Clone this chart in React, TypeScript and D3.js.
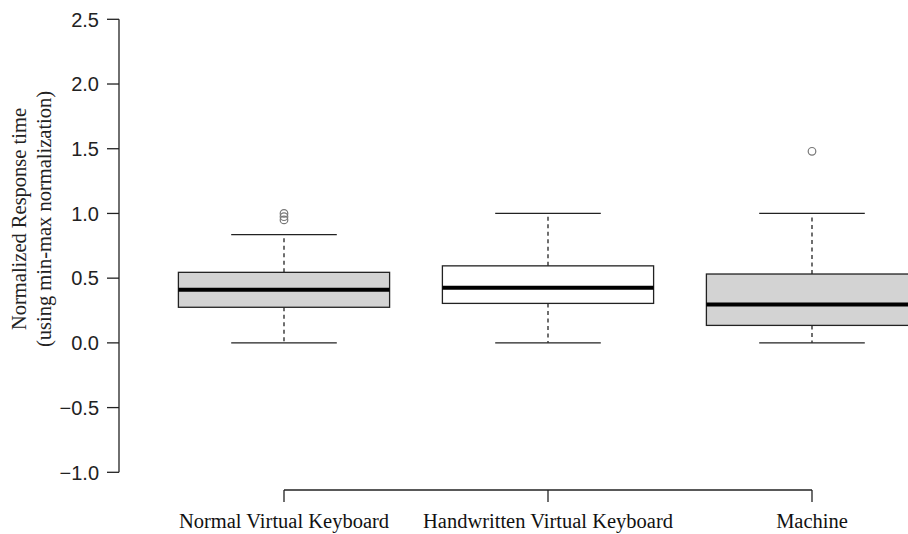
import React from 'react';
import * as d3 from 'd3';

const categories = ['Normal Virtual Keyboard', 'Handwritten Virtual Keyboard', 'Machine'];
const lowerWhisker = [0, 0, 0];
const q1 = [0.275, 0.305, 0.135];
const median = [0.41, 0.425, 0.297];
const q3 = [0.545, 0.595, 0.532];
const upperWhisker = [0.837, 1.0, 1.0];
const outliers = [[0.95, 0.975, 1.0], [], [1.48]];
const boxFill = ['#d3d3d3', '#ffffff', '#d3d3d3'];
const yTicks = [-1.0, -0.5, 0.0, 0.5, 1.0, 1.5, 2.0, 2.5];

const width = 908, height = 534;

export default function App() {
  const y = d3.scaleLinear().domain([-1, 2.5]).range([472.3, 19.3]);
  const x = d3.scaleBand().domain(categories).range([152, 944]).paddingInner(0).paddingOuter(0);
  const bw = x.bandwidth() * 0.8;
  const cx = (c) => x(c) + x.bandwidth() / 2;
  const axisX = 119;
  const axisY = 490;
  const serif = '"Liberation Serif", "Times New Roman", serif';
  const sans = '"Liberation Sans", Arial, sans-serif';

  return (
    <svg width={width} height={height} style={{ position: 'absolute', left: 0, top: 0, background: '#fff' }}>
      {/* y axis */}
      <line x1={axisX} x2={axisX} y1={y(-1)} y2={y(2.5)} stroke="#222" strokeWidth={1.3} />
      {yTicks.map(t => (
        <g key={t}>
          <line x1={axisX - 12} x2={axisX} y1={y(t)} y2={y(t)} stroke="#222" strokeWidth={1.3} />
          <text x={99} y={y(t)} dy="0.36em" textAnchor="end" fontFamily={sans} fontSize={20} fill="#222">
            {d3.format('.1f')(t).replace('-', '\u2212')}
          </text>
        </g>
      ))}
      {/* y title */}
      <g transform="translate(0,219) rotate(-90)">
        <text x={0} y={26} textAnchor="middle" fontFamily={serif} fontSize={20.5} fill="#222">Normalized Response time</text>
        <text x={0} y={51} textAnchor="middle" fontFamily={serif} fontSize={20.5} fill="#222">(using min-max normalization)</text>
      </g>
      {/* x axis */}
      <line x1={cx(categories[0])} x2={cx(categories[2])} y1={axisY} y2={axisY} stroke="#222" strokeWidth={1.3} />
      {categories.map(c => (
        <g key={c}>
          <line x1={cx(c)} x2={cx(c)} y1={axisY} y2={axisY + 12} stroke="#222" strokeWidth={1.3} />
          <text x={cx(c)} y={528} textAnchor="middle" fontFamily={serif} fontSize={20.5} fill="#111">{c}</text>
        </g>
      ))}
      {/* boxes */}
      {categories.map((c, i) => {
        const m = cx(c);
        return (
          <g key={c}>
            <line x1={m} x2={m} y1={y(q3[i])} y2={y(upperWhisker[i])} stroke="#222" strokeWidth={1.3} strokeDasharray="4,3.5" />
            <line x1={m} x2={m} y1={y(q1[i])} y2={y(lowerWhisker[i])} stroke="#222" strokeWidth={1.3} strokeDasharray="4,3.5" />
            <line x1={m - bw / 4} x2={m + bw / 4} y1={y(upperWhisker[i])} y2={y(upperWhisker[i])} stroke="#222" strokeWidth={1.3} />
            <line x1={m - bw / 4} x2={m + bw / 4} y1={y(lowerWhisker[i])} y2={y(lowerWhisker[i])} stroke="#222" strokeWidth={1.3} />
            <rect x={m - bw / 2} y={y(q3[i])} width={bw} height={y(q1[i]) - y(q3[i])} fill={boxFill[i]} stroke="#222" strokeWidth={1.3} />
            <line x1={m - bw / 2} x2={m + bw / 2} y1={y(median[i])} y2={y(median[i])} stroke="#000" strokeWidth={4} />
            {outliers[i].map((o, j) => (
              <circle key={j} cx={m} cy={y(o)} r={3.8} fill="none" stroke="#777" strokeWidth={1.2} />
            ))}
          </g>
        );
      })}
    </svg>
  );
}
